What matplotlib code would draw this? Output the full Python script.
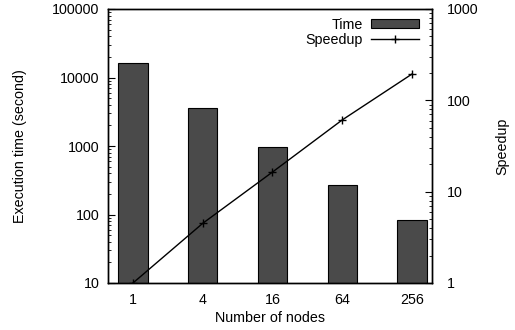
import matplotlib
matplotlib.use("Agg")
import matplotlib.pyplot as plt
from matplotlib.patches import Patch
from matplotlib.lines import Line2D
from matplotlib.ticker import LogLocator, NullFormatter

# dane
nodes = ["1", "4", "16", "64", "256"]
exec_time = [16300, 3590, 980, 270, 83]
speedup = [1.0, 4.5, 16.4, 61, 194]

left_ticks = [10, 100, 1000, 10000, 100000]
right_ticks = [1, 10, 100, 1000]

plt.rcParams['font.family'] = ['Liberation Sans', 'DejaVu Sans']
plt.rcParams['font.size'] = 10.3

fig = plt.figure(figsize=(5.15, 3.3), dpi=100)
ax = fig.add_axes([108 / 515, 1 - 283 / 330, 324 / 515, 274 / 330])
ax2 = ax.twinx()

x = list(range(len(nodes)))

# słupki - czas wykonania
ax.bar(x, exec_time, width=0.42, bottom=1, color='#4a4a4a',
       edgecolor='black', linewidth=0.8, zorder=2)
ax.set_yscale('log')
ax.set_ylim(10, 100000)
ax.set_xlim(-0.358, 4.287)
ax.set_yticks(left_ticks)
ax.set_yticklabels([str(t) for t in left_ticks])
ax.yaxis.set_minor_locator(LogLocator(base=10, subs=range(2, 10)))
ax.yaxis.set_minor_formatter(NullFormatter())
ax.set_xticks(x)
ax.set_xticklabels(nodes)
ax.tick_params(axis='x', length=0, pad=7)
ax.tick_params(axis='y', which='major', direction='in', length=5, width=0.8, pad=6)
ax.tick_params(axis='y', which='minor', direction='in', length=2.5, width=0.6)
ax.set_ylabel('Execution time (second)')
ax.yaxis.set_label_coords(-0.25, 0.5)
ax.set_xlabel('Number of nodes', labelpad=3)

# linia - przyspieszenie
ax2.plot(x, speedup, color='black', linewidth=1.0, marker='+',
         markersize=6, markeredgewidth=1.0, zorder=3)
ax2.set_yscale('log')
ax2.set_ylim(1, 1000)
ax2.set_yticks(right_ticks)
ax2.set_yticklabels([str(t) for t in right_ticks])
ax2.yaxis.set_minor_locator(LogLocator(base=10, subs=range(2, 10)))
ax2.yaxis.set_minor_formatter(NullFormatter())
ax2.tick_params(axis='y', which='major', direction='in', length=5, width=0.8, pad=11)
ax2.tick_params(axis='y', which='minor', direction='in', length=2.5, width=0.6)
ax2.set_ylabel('Speedup')
ax2.yaxis.set_label_coords(1.194, 0.5)

for a in (ax, ax2):
    for s in a.spines.values():
        s.set_linewidth(1.0)

handles = [Patch(facecolor='#4a4a4a', edgecolor='black', linewidth=0.8),
           Line2D([], [], color='black', linewidth=1.0, marker='+',
                  markersize=6, markeredgewidth=1.0)]
ax2.legend(handles, ['Time', 'Speedup'], loc='upper right', frameon=False,
           markerfirst=False, handlelength=3.3, handleheight=0.6,
           borderaxespad=0.2, labelspacing=0.1, handletextpad=0.6,
           bbox_to_anchor=(0.985, 1.0))

fig.savefig('out.png', dpi=100)
